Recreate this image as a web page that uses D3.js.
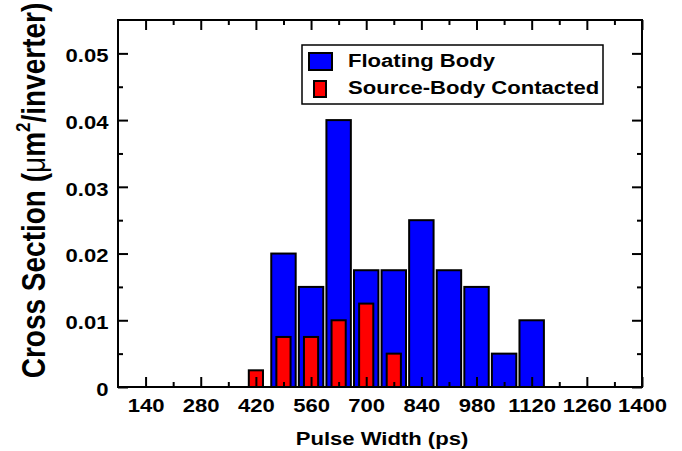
<!DOCTYPE html>
<html>
<head>
<meta charset="utf-8">
<script src="https://cdn.jsdelivr.net/npm/d3@7"></script>
<style>
  html, body { margin: 0; padding: 0; background: #fff; }
  svg { display: block; font-family: "Liberation Sans", Arial, Helvetica, sans-serif; font-weight: bold; }
</style>
</head>
<body>
<svg id="chart" width="682" height="451"></svg>
<script>
// Pulse widths (ps) at which each bar is centred
const floatingPulse = [490, 560, 630, 700, 770, 840, 910, 980, 1050, 1120];
const floatingValues = [0.02, 0.015, 0.04, 0.0175, 0.0175, 0.025, 0.0175, 0.015, 0.005, 0.01];
const contactedPulse = [420, 490, 560, 630, 700, 770];
const contactedValues = [0.0025, 0.0075, 0.0075, 0.01, 0.0125, 0.005];

const xMajorTicks = [140, 280, 420, 560, 700, 840, 980, 1120, 1260, 1400];
const xMinorTicks = [210, 350, 490, 630, 770, 910, 1050, 1190, 1330];
const yMajorTicks = [0, 0.01, 0.02, 0.03, 0.04, 0.05];
const yMinorTicks = [0.005, 0.015, 0.025, 0.035, 0.045];

const seriesNames = ["Floating Body", "Source-Body Contacted"];

const margin = { left: 118, right: 40, top: 20, bottom: 64 };
const W = 682, H = 451;
const FS = 18.7;      // label font size
const STRETCH = 1.18; // horizontal widening of the lettering
const svg = d3.select("#chart");

const x = d3.scaleLinear().domain([70, 1400]).range([margin.left, W - margin.right]);
const y = d3.scaleLinear().domain([0, 0.055]).range([H - margin.bottom, margin.top]);

const blueW = 62, redW = 36; // bar widths in ps

// Bars
svg.append("g").selectAll("rect")
  .data(floatingPulse.map((p, i) => ({ p, v: floatingValues[i] })))
  .join("rect")
  .attr("x", d => x(d.p - blueW / 2))
  .attr("width", d => x(d.p + blueW / 2) - x(d.p - blueW / 2))
  .attr("y", d => y(d.v))
  .attr("height", d => y(0) - y(d.v))
  .attr("fill", "#0000ff")
  .attr("stroke", "#000")
  .attr("stroke-width", 2);

svg.append("g").selectAll("rect")
  .data(contactedPulse.map((p, i) => ({ p, v: contactedValues[i] })))
  .join("rect")
  .attr("x", d => x(d.p - redW / 2))
  .attr("width", d => x(d.p + redW / 2) - x(d.p - redW / 2))
  .attr("y", d => y(d.v))
  .attr("height", d => y(0) - y(d.v))
  .attr("fill", "#ff0000")
  .attr("stroke", "#000")
  .attr("stroke-width", 2);

// Axes with inward ticks on all four sides
function styleAxis(g) {
  g.select(".domain").remove();
  g.selectAll(".tick line").attr("stroke", "#000").attr("stroke-width", 2);
  g.selectAll(".tick text").attr("fill", "#000").style("font-size", FS + "px").style("font-weight", "bold");
}
const bottomY = y(0), topY = y(0.055), leftX = x(70), rightX = x(1400);

svg.append("g").attr("transform", `translate(0,${bottomY})`)
  .call(d3.axisBottom(x).tickValues(xMajorTicks).tickSize(-10).tickFormat(d3.format("d")))
  .call(styleAxis)
  .call(g => g.selectAll(".tick text")
    .attr("x", 0).attr("y", 0).attr("dy", "0.71em")
    .attr("transform", `translate(0,11.5) scale(${STRETCH},1)`));
svg.append("g").attr("transform", `translate(0,${bottomY})`)
  .call(d3.axisBottom(x).tickValues(xMinorTicks).tickSize(-5).tickFormat(""))
  .call(styleAxis);
svg.append("g").attr("transform", `translate(0,${topY})`)
  .call(d3.axisTop(x).tickValues(xMajorTicks).tickSize(-10).tickFormat(""))
  .call(styleAxis);
svg.append("g").attr("transform", `translate(0,${topY})`)
  .call(d3.axisTop(x).tickValues(xMinorTicks).tickSize(-5).tickFormat(""))
  .call(styleAxis);

svg.append("g").attr("transform", `translate(${leftX},0)`)
  .call(d3.axisLeft(y).tickValues(yMajorTicks).tickSize(-10).tickFormat(d => d === 0 ? "0" : d3.format(".2f")(d)))
  .call(styleAxis)
  .call(g => g.selectAll(".tick text")
    .attr("x", 0).attr("dy", "0.45em")
    .attr("transform", `translate(-9.5,0) scale(${STRETCH},1)`));
svg.append("g").attr("transform", `translate(${leftX},0)`)
  .call(d3.axisLeft(y).tickValues(yMinorTicks).tickSize(-5).tickFormat(""))
  .call(styleAxis);
svg.append("g").attr("transform", `translate(${rightX},0)`)
  .call(d3.axisRight(y).tickValues(yMajorTicks).tickSize(-10).tickFormat(""))
  .call(styleAxis);
svg.append("g").attr("transform", `translate(${rightX},0)`)
  .call(d3.axisRight(y).tickValues(yMinorTicks).tickSize(-5).tickFormat(""))
  .call(styleAxis);

// Plot frame
svg.append("rect")
  .attr("x", leftX).attr("y", topY)
  .attr("width", rightX - leftX).attr("height", bottomY - topY)
  .attr("fill", "none").attr("stroke", "#000").attr("stroke-width", 2);

// Axis titles
svg.append("text")
  .attr("transform", `translate(${(leftX + rightX) / 2 + 2},445) scale(${STRETCH},1)`)
  .attr("text-anchor", "middle")
  .style("font-size", FS + "px")
  .text("Pulse Width (ps)");

const yTitle = svg.append("text")
  .attr("transform", `translate(45,${(topY + bottomY) / 2 - 13}) scale(${STRETCH},1) rotate(-90)`)
  .attr("text-anchor", "middle")
  .style("font-size", "28px");
yTitle.append("tspan").text("Cross Section (");
yTitle.append("tspan").style("font-weight", "normal").text("\u03bc");
yTitle.append("tspan").text("m");
yTitle.append("tspan").attr("dy", -13).style("font-size", "17px").text("2");
yTitle.append("tspan").attr("dy", 13).text("/inverter)");

// Legend
const legend = svg.append("g");
legend.append("rect")
  .attr("x", 302).attr("y", 45).attr("width", 301).attr("height", 59)
  .attr("fill", "#fff").attr("stroke", "#000").attr("stroke-width", 1.5);
legend.append("rect")
  .attr("x", 309).attr("y", 53).attr("width", 23).attr("height", 17)
  .attr("fill", "#0000ff").attr("stroke", "#000").attr("stroke-width", 2);
legend.append("rect")
  .attr("x", 314).attr("y", 81).attr("width", 12).attr("height", 16)
  .attr("fill", "#ff0000").attr("stroke", "#000").attr("stroke-width", 2);
legend.selectAll("text.lbl")
  .data(seriesNames)
  .join("text")
  .attr("class", "lbl")
  .attr("transform", (d, i) => `translate(348,${67 + i * 27}) scale(${STRETCH},1)`)
  .style("font-size", FS + "px")
  .text(d => d);
</script>
</body>
</html>
